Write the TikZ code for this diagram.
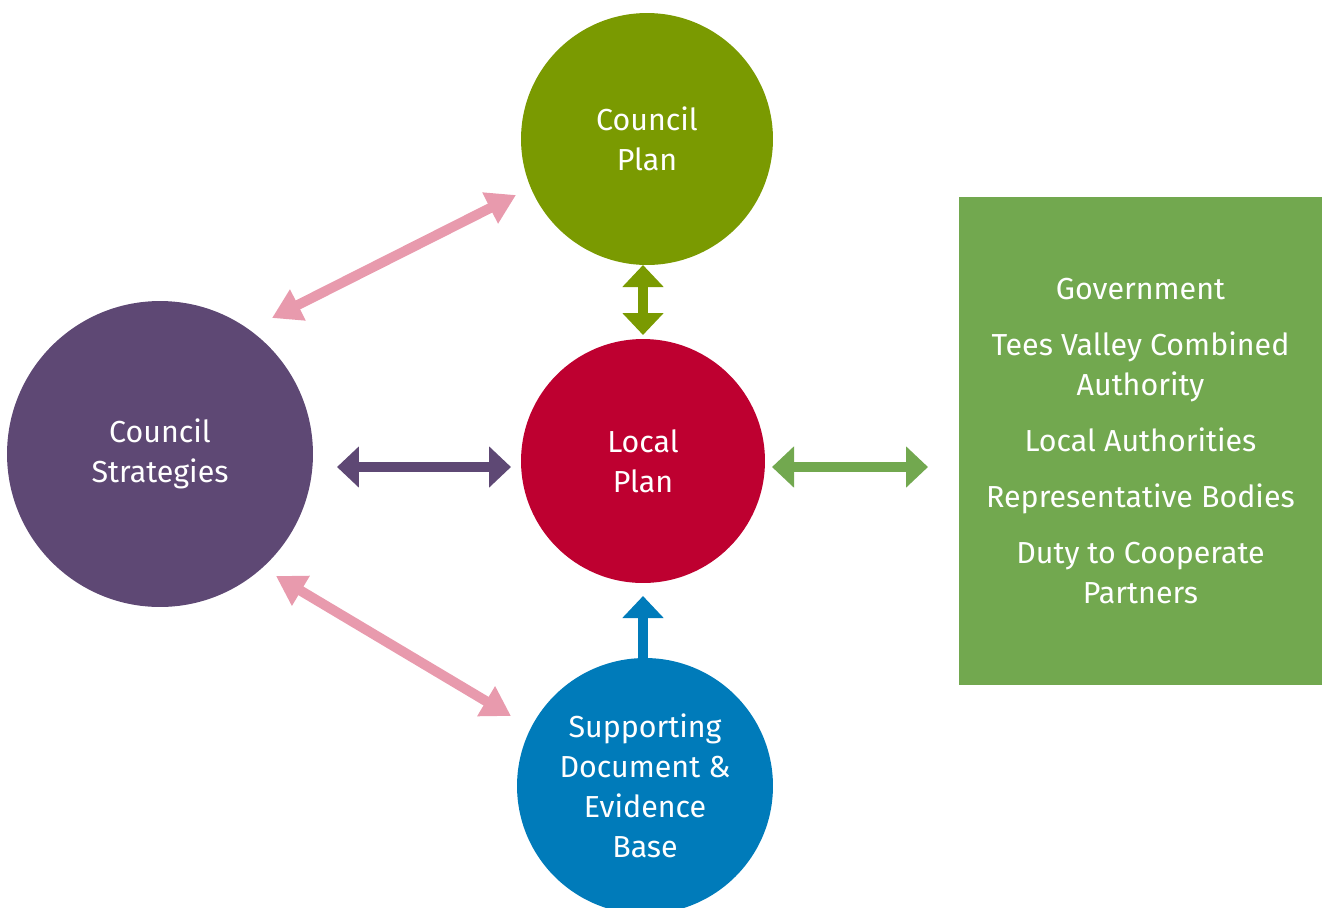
\documentclass[tikz,border=0pt]{standalone}
\usepackage{fontspec}
\setmainfont{Fira Sans}
\usetikzlibrary{arrows.meta,positioning}

\definecolor{cpgreen}{HTML}{7A9A01}
\definecolor{lpred}{HTML}{BE0030}
\definecolor{cspurple}{HTML}{5E4874}
\definecolor{sdblue}{HTML}{007BBA}
\definecolor{linkpink}{HTML}{E89AAD}
\definecolor{boxgreen}{HTML}{72A84F}

\tikzset{
  bubble/.style={circle, draw=none, text=white, align=center, inner sep=0pt,
    font=\fontsize{17.3}{22.7}\selectfont},
  link/.style={line width=0.2cm, {Triangle[width=0.8cm,length=0.44cm]}-{Triangle[width=0.8cm,length=0.44cm]}},
  onelink/.style={line width=0.2cm, -{Triangle[width=0.8cm,length=0.44cm]}},
  pinklink/.style={line width=0.2cm, linkpink, {Triangle[width=0.66cm,length=0.58cm]}-{Triangle[width=0.66cm,length=0.58cm]}}
}

\begin{document}
\begin{tikzpicture}[x=0.02cm, y=-0.02cm]
\useasboundingbox (0,0) rectangle (1322,907);
\clip (0,0) rectangle (1322,907);

% circles
\node (CP) [bubble, fill=cpgreen, minimum size=5.04cm] at (647,139) {Council\\Plan};
\node (LP) [bubble, fill=lpred, minimum size=4.88cm] at (643,461) {Local\\Plan};
\node (CS) [bubble, fill=cspurple, minimum size=6.12cm] at (160,454) {Council\\Strategies};
\node (SD) [bubble, fill=sdblue, minimum size=5.12cm] at (645,786) {Supporting\\Document \&\\Evidence\\Base};

% partners box
\node (box) [fill=boxgreen, minimum width=7.26cm, minimum height=9.76cm, text=white,
  align=center, font=\fontsize{17.3}{22.7}\selectfont] at (1140.5,441)
  {Government\\[0.32cm]
   Tees Valley Combined\\Authority\\[0.32cm]
   Local Authorities\\[0.32cm]
   Representative Bodies\\[0.32cm]
   Duty to Cooperate\\Partners};

% arrow ends
\coordinate (csTop) at (272,318);
\coordinate (cpLeft) at (516,195);
\coordinate (csBot) at (276,576);
\coordinate (sdLeft) at (511,716);
\coordinate (cpBot) at (643,265);
\coordinate (lpTop) at (643,335);
\coordinate (csRight) at (337,467);
\coordinate (lpLeft) at (511,467);
\coordinate (lpRight) at (772,467);
\coordinate (boxLeft) at (928,467);
\coordinate (sdTop) at (643,662);
\coordinate (lpBot) at (643,596);

% links
\draw[pinklink] (csTop) -- (cpLeft);
\draw[pinklink] (csBot) -- (sdLeft);
\draw[link, cpgreen] (cpBot) -- (lpTop);
\draw[link, cspurple] (csRight) -- (lpLeft);
\draw[link, boxgreen] (lpRight) -- (boxLeft);
\draw[onelink, sdblue] (sdTop) -- (lpBot);
\end{tikzpicture}
\end{document}
